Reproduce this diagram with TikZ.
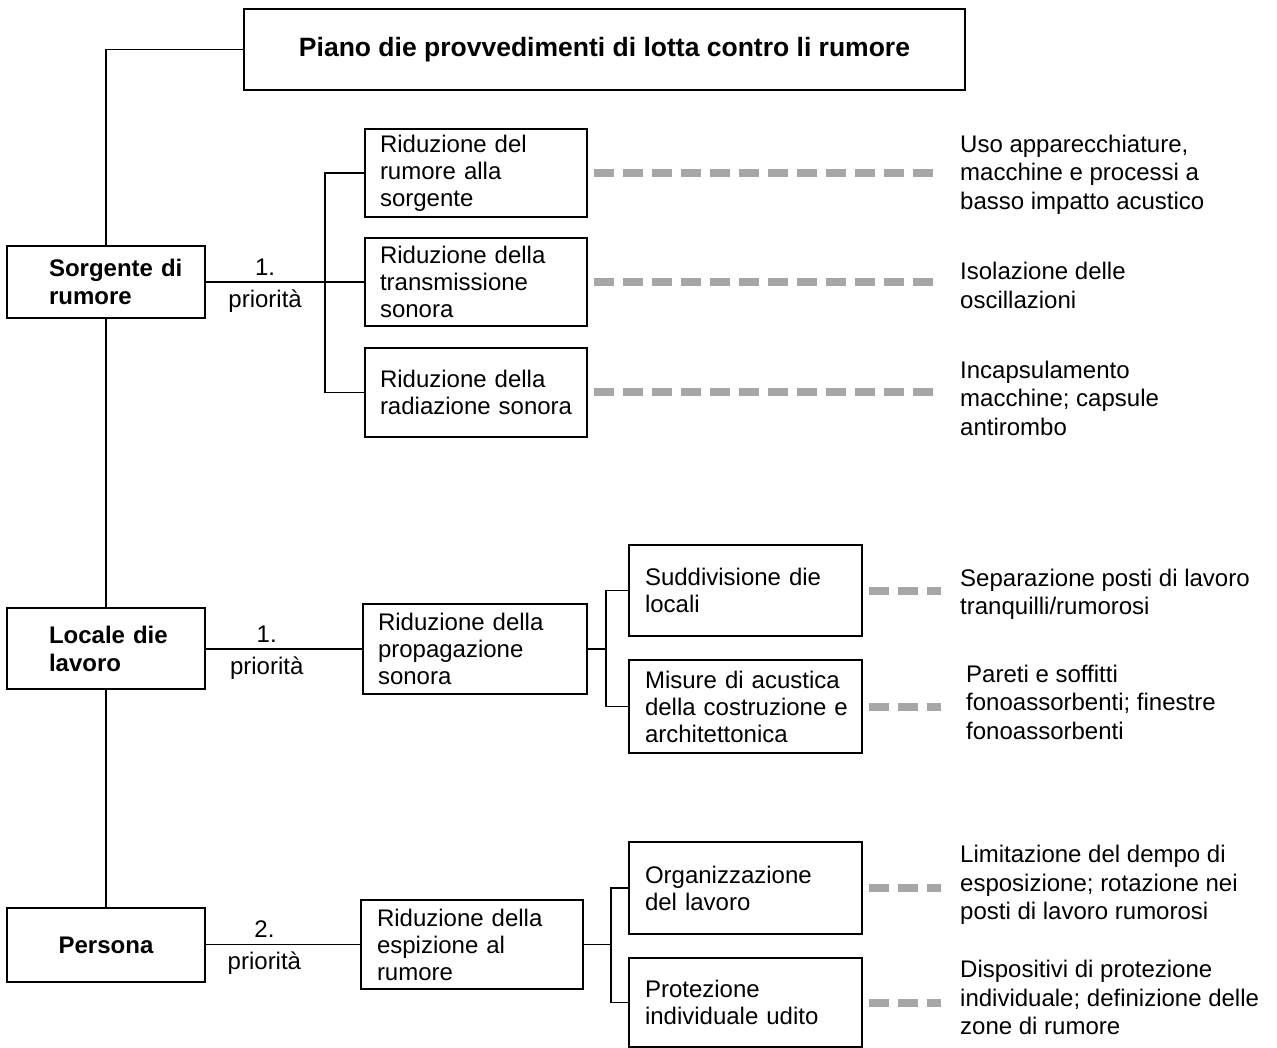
\documentclass[tikz,border=0pt]{standalone}
\usepackage{fontspec}
\setmainfont{Liberation Sans}
\usetikzlibrary{positioning}
\definecolor{dashgray}{RGB}{166,166,166}

\begin{document}
\begin{tikzpicture}[x=1pt,y=-1pt
,boxstyle/.style={draw=black,line width=1.2pt,rectangle,inner xsep=15pt,inner ysep=0pt,align=left,font=\fontsize{24}{27}\selectfont}
,headstyle/.style={boxstyle,inner xsep=42pt,font=\bfseries\fontsize{24}{28}\selectfont}
,notestyle/.style={anchor=west,inner xsep=19pt,inner ysep=0pt,align=left,font=\fontsize{24}{28.5}\selectfont}
,linkstyle/.style={draw=black,line width=1.2pt}
,dashstyle/.style={draw=dashgray,line width=8pt,dash pattern=on 20pt off 9pt,shorten <=6pt}
,prioritystyle/.style={font=\fontsize{24}{27}\selectfont,inner xsep=3pt}
]
\useasboundingbox (0,0) rectangle (1277,1048);
% title and the three fields
\node[boxstyle,align=center,minimum width=721pt,minimum height=81pt,font=\bfseries\fontsize{26.5}{30}\selectfont] (title) at (604.5,49.5) {Piano die provvedimenti di lotta contro li rumore};
\node[headstyle,minimum width=198pt,minimum height=72pt,text width=114pt] (src) at (106,282) {Sorgente~di\\rumore};
\node[headstyle,minimum width=198pt,minimum height=81pt,text width=114pt] (loc) at (106,648.5) {Locale~die\\lavoro};
\node[headstyle,align=center,minimum width=198pt,minimum height=74pt] (per) at (106,945) {Persona};
% measures
\node[boxstyle,minimum width=222pt,minimum height=88pt,text width=192pt] (a1) at (476,173) {Riduzione del\\rumore alla\\sorgente};
\node[boxstyle,minimum width=222pt,minimum height=88pt,text width=192pt] (a2) at (476,282) {Riduzione della\\transmissione\\sonora};
\node[boxstyle,minimum width=222pt,minimum height=89pt,text width=192pt] (a3) at (476,392.5) {Riduzione della\\radiazione~sonora};
\node[boxstyle,minimum width=224pt,minimum height=90pt,text width=194pt] (b) at (475,649) {Riduzione della\\propagazione\\sonora};
\node[boxstyle,inner xsep=16pt,minimum width=233pt,minimum height=91pt,text width=201pt] (b1) at (745.5,590.5) {Suddivisione~die\\locali};
\node[boxstyle,inner xsep=16pt,minimum width=233pt,minimum height=93pt,text width=201pt] (b2) at (745.5,706.5) {Misure~di~acustica\\della~costruzione~e\\architettonica};
\node[boxstyle,inner xsep=16pt,minimum width=222pt,minimum height=89pt,text width=190pt] (c) at (472,944.5) {Riduzione della\\espizione al\\rumore};
\node[boxstyle,inner xsep=16pt,minimum width=233pt,minimum height=92pt,text width=201pt] (c1) at (745.5,888) {Organizzazione\\del lavoro};
\node[boxstyle,inner xsep=16pt,minimum width=233pt,minimum height=89pt,text width=201pt] (c2) at (745.5,1002.5) {Protezione\\individuale~udito};
% examples
\node[notestyle] (n1) at (941,174.5) {Uso apparecchiature,\\macchine e processi a\\basso impatto acustico};
\node[notestyle] (n2) at (941,285.5) {Isolazione delle\\oscillazioni};
\node[notestyle] (n3) at (941,398) {Incapsulamento\\macchine; capsule\\antirombo};
\node[notestyle] (n4) at (941,594.5) {Separazione posti di lavoro\\tranquilli/rumorosi};
\node[notestyle,inner xsep=25pt] (n5) at (941,702) {Pareti e soffitti\\fonoassorbenti; finestre\\fonoassorbenti};
\node[notestyle] (n6) at (941,885) {Limitazione del dempo di\\esposizione; rotazione nei\\posti di lavoro rumorosi};
\node[notestyle] (n7) at (941,997.5) {Dispositivi di protezione\\individuale; definizione delle\\zone di rumore};
% forks
\coordinate (fa) at (325,282);
\coordinate (fb) at (606,649);
\coordinate (fc) at (611,944.5);
% connectors
\draw[linkstyle] (title.west) -| (src.north);
\draw[linkstyle] (src.south) -- (loc.north);
\draw[linkstyle] (loc.south) -- (per.north);
\draw[linkstyle] (src.east) -- node[prioritystyle,inner ysep=6pt,pos=0.375,above] (s1) {1.} node[prioritystyle,inner ysep=7pt,pos=0.375,below] (s2) {priorità} (a2.west);
\draw[linkstyle] (a1.west) -| (fa) |- (a3.west);
\draw[linkstyle] (loc.east |- b.west) -- node[prioritystyle,inner ysep=6pt,pos=0.39,above] (l1) {1.} node[prioritystyle,inner ysep=7pt,pos=0.39,below] (l2) {priorità} (b.west);
\draw[linkstyle] (b.east) -- (fb);
\draw[linkstyle] (b1.west) -| (fb) |- (b2.west);
\draw[linkstyle] (per.east |- c.west) -- node[prioritystyle,inner ysep=6pt,pos=0.38,above] (p1) {2.} node[prioritystyle,inner ysep=7pt,pos=0.38,below] (p2) {priorità} (c.west);
\draw[linkstyle] (c.east) -- (fc);
\draw[linkstyle] (c1.west) -| (fc) |- (c2.west);
% dashed links
\draw[dashstyle] (a1.east) -- (a1.east -| n1.west);
\draw[dashstyle] (a2.east) -- (a2.east -| n2.west);
\draw[dashstyle] (a3.east) -- (a3.east -| n3.west);
\draw[dashstyle] (b1.east) -- (b1.east -| n4.west);
\draw[dashstyle] (b2.east) -- (b2.east -| n5.west);
\draw[dashstyle] (c1.east) -- (c1.east -| n6.west);
\draw[dashstyle] (c2.east) -- (c2.east -| n7.west);
\end{tikzpicture}
\end{document}
